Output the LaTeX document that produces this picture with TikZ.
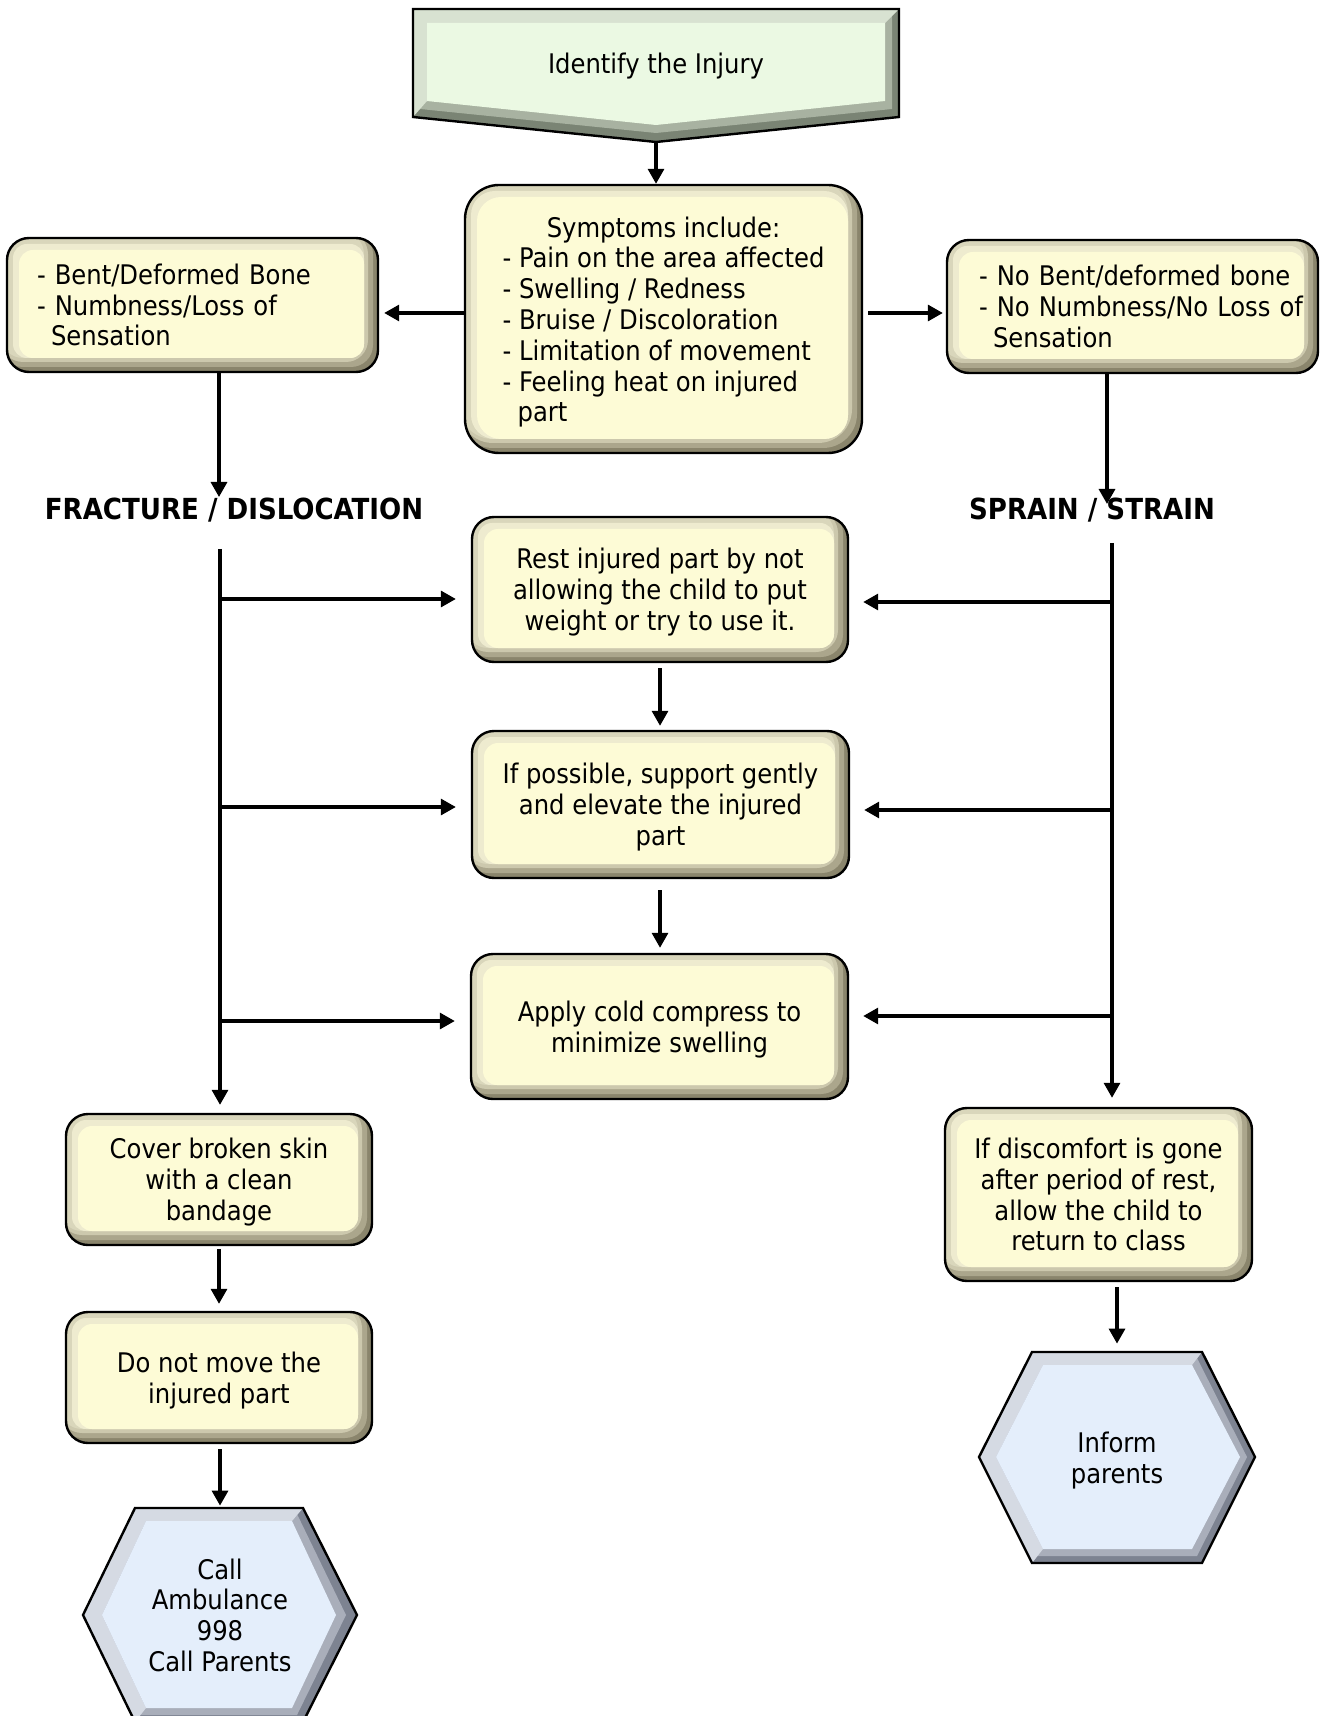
\documentclass[tikz,border=0pt]{standalone}
\usepackage{fontspec}
\setmainfont{DejaVu Sans Condensed}
\usetikzlibrary{arrows.meta}

% card (yellow) bevel tones
\definecolor{yface}{HTML}{FDFBD6}
\definecolor{yhi}{HTML}{EEEBCF}
\definecolor{ylight}{HTML}{D9D6BB}
\definecolor{ysoft}{HTML}{CCC8AD}
\definecolor{ymid}{HTML}{ABA68C}
\definecolor{ydark}{HTML}{8A856C}
% banner (green) tones
\definecolor{gface}{HTML}{EBF9E3}
\definecolor{glight}{HTML}{D8E2D1}
\definecolor{gmid}{HTML}{A8B2A1}
\definecolor{gdark}{HTML}{7A8474}
% terminal (blue) tones
\definecolor{bface}{HTML}{E4EEFB}
\definecolor{blight}{HTML}{D5DAE3}
\definecolor{bmid}{HTML}{A9AEBA}
\definecolor{bdark}{HTML}{7D8391}

\tikzset{
  body/.style={font=\fontsize{13.5}{15.4}\selectfont},
  heading/.style={font=\fontsize{14.5}{17}\selectfont\bfseries, inner sep=0pt},
  % bevelled rounded card: #1 outer radius, #2 inner radius
  card/.style 2 args={draw=black, line width=1.2pt, fill=ydark, rounded corners=#1,
    inner sep=0pt, body, align=center,
    path picture={
      \fill[ymid] ([shift={(-3pt,3pt)}]path picture bounding box.north west)
        rectangle ([shift={(-2.5pt,2.5pt)}]path picture bounding box.south east);
      \fill[ysoft] ([shift={(-3pt,3pt)}]path picture bounding box.north west)
        rectangle ([shift={(-5pt,5pt)}]path picture bounding box.south east);
      \fill[ylight] ([shift={(-3pt,3pt)}]path picture bounding box.north west)
        rectangle ([shift={(-7pt,7pt)}]path picture bounding box.south east);
      \fill[yhi, rounded corners=#2] ([shift={(3pt,-3pt)}]path picture bounding box.north west)
        rectangle ([shift={(-7pt,7pt)}]path picture bounding box.south east);
      \fill[yface, rounded corners=#2] ([shift={(6pt,-6pt)}]path picture bounding box.north west)
        rectangle ([shift={(-7pt,7pt)}]path picture bounding box.south east);
    }},
  label/.style={body, inner sep=0pt, align=center},
  arr/.style={line width=1.6pt, -{Triangle[length=7.5pt,width=8pt]}},
  outline/.style={draw=black, line width=1.2pt, line join=miter},
}

\begin{document}
\begin{tikzpicture}[x=0.5pt,y=-0.5pt]
\useasboundingbox (0,0) rectangle (1319,1716);
\clip (0,0) rectangle (1319,1716);
\fill[white] (0,0) rectangle (1319,1716);

% ---- start banner (downward pentagon) ----
\fill[gdark] (413,9) -- (899,9) -- (899,117) -- (656,142) -- (413,117) -- cycle;
\fill[gmid] (420,16) -- (892,16) -- (892,109) -- (656,133) -- (420,109) -- cycle;
\fill[glight] (413,9) -- (899,9) -- (885,23) -- (427,23) -- (427,101) -- (413,117) -- cycle;
\fill[gface] (427,23) -- (885,23) -- (885,101) -- (656,125) -- (427,101) -- cycle;
\path[outline] (413,9) -- (899,9) -- (899,117) -- (656,142) -- (413,117) -- cycle;
\node[label, text depth=0pt, minimum width=243pt, minimum height=54pt] (ident) at (656,63) {Identify the Injury};
\coordinate (ptip) at (656,142);

% ---- end hexagons ----
\fill[bdark] (83,1615) -- (135,1508) -- (303,1508) -- (357,1615) -- (303,1722) -- (135,1722) -- cycle;
\fill[bmid] (92,1615) -- (140,1514) -- (297,1514) -- (346,1615) -- (297,1715) -- (140,1715) -- cycle;
\fill[blight] (135,1722) -- (83,1615) -- (135,1508) -- (303,1508) -- (292,1521) -- (146,1521) -- (102,1615) -- (146,1708) -- cycle;
\fill[bface] (102,1615) -- (146,1521) -- (292,1521) -- (336,1615) -- (292,1708) -- (146,1708) -- cycle;
\path[outline] (83,1615) -- (135,1508) -- (303,1508) -- (357,1615) -- (303,1722) -- (135,1722) -- cycle;

\fill[bdark] (979,1457) -- (1032,1352) -- (1202,1352) -- (1255,1457) -- (1202,1563) -- (1032,1563) -- cycle;
\fill[bmid] (987,1457) -- (1037,1358) -- (1197,1358) -- (1247,1457) -- (1197,1556) -- (1037,1556) -- cycle;
\fill[blight] (1032,1563) -- (979,1457) -- (1032,1352) -- (1202,1352) -- (1192,1365) -- (1043,1365) -- (996,1457) -- (1043,1549) -- cycle;
\fill[bface] (996,1457) -- (1043,1365) -- (1192,1365) -- (1240,1457) -- (1192,1549) -- (1043,1549) -- cycle;
\path[outline] (979,1457) -- (1032,1352) -- (1202,1352) -- (1255,1457) -- (1202,1563) -- (1032,1563) -- cycle;

\node[label, text depth=0pt, minimum width=137pt, minimum height=107pt] (amb) at (220,1615) {Call\\Ambulance\\998\\Call Parents};
\node[label, text depth=0pt, minimum width=138pt, minimum height=105.5pt] (inf) at (1117,1457.5) {Inform\\parents};

% ---- cards ----
\node[card={17pt}{12pt}, minimum width=198.5pt, minimum height=134pt] (symp) at (663.5,319)
  {\begin{tabular}{@{}l@{}}\multicolumn{1}{@{}c@{}}{\rule{0pt}{15.2pt}Symptoms include:}\\
   - Pain on the area affected\\- Swelling / Redness\\- Bruise / Discoloration\\
   - Limitation of movement\\- Feeling heat on injured\\\hspace*{7.5pt}part\end{tabular}};

\node[card={11pt}{7pt}, align=left, inner xsep=15pt, text width=155.5pt, minimum height=67pt] (lbox) at (192.5,305)
  {\mbox{- Bent/Deformed Bone}\\\mbox{- Numbness/Loss of}\\\mbox{\hspace*{7pt}Sensation}};
\node[card={11pt}{7pt}, align=left, inner xsep=16pt, text width=153.5pt, minimum height=66.5pt] (rbox) at (1132.5,306.5)
  {\mbox{- No Bent/deformed bone}\\\mbox{- No Numbness/No Loss of}\\\mbox{\hspace*{7pt}Sensation}};

\node[card={11pt}{7pt}, text depth=0pt, minimum width=188pt, minimum height=72.5pt] (rest) at (660,589.5)
  {Rest injured part by not\\allowing the child to put\\weight or try to use it.};
\node[card={11pt}{7pt}, text depth=0pt, minimum width=188.5pt, minimum height=73.5pt] (support) at (660.5,804.5)
  {If possible, support gently\\and elevate the injured\\part};
\node[card={11pt}{7pt}, text depth=0pt, minimum width=188.5pt, minimum height=72.5pt] (cold) at (659.5,1026.5)
  {Apply cold compress to\\minimize swelling};

\node[card={11pt}{7pt}, text depth=0pt, minimum width=153pt, minimum height=65.5pt] (cover) at (219,1179.5)
  {Cover broken skin\\with a clean\\bandage};
\node[card={11pt}{7pt}, text depth=0pt, minimum width=153pt, minimum height=65.5pt] (dnm) at (219,1377.5)
  {Do not move the\\injured part};
\node[card={11pt}{7pt}, text depth=0pt, minimum width=153.5pt, minimum height=86.5pt] (disc) at (1098.5,1194.5)
  {If discomfort is gone\\after period of rest,\\allow the child to\\return to class};

% ---- branch headings ----
\node[heading] (frac) at (234,510) {FRACTURE / DISLOCATION};
\node[heading] (sprain) at (1092,510) {SPRAIN / STRAIN};

% ---- helper coordinates ----
\coordinate (ay) at (0,313);
\coordinate (ftip) at (219,497);
\coordinate (stip) at (1107,504);
\coordinate (ltop) at (220,549);
\coordinate (rtop) at (1112,543);
\coordinate (b1) at (0,599);
\coordinate (b2) at (0,807);
\coordinate (b3) at (0,1021);
\coordinate (c1) at (0,602);
\coordinate (c2) at (0,810);
\coordinate (c3) at (0,1016);

% ---- connectors ----
\draw[arr] (ptip) -- (ptip |- symp.north);
\draw[arr] (symp.west |- ay) -- ([xshift=2.5pt]lbox.east |- ay);
\draw[arr] ([xshift=2.5pt]symp.east |- ay) -- ([xshift=-1.5pt]rbox.west |- ay);
\draw[arr] (lbox.south -| ftip) -- (ftip);
\draw[arr] (rbox.south -| stip) -- (stip);

\draw[arr] (ltop) -- ([yshift=4pt]cover.north -| ltop);
\draw[arr] (ltop |- b1) -- ([xshift=-7.5pt]rest.west |- b1);
\draw[arr] (ltop |- b2) -- ([xshift=-7.5pt]support.west |- b2);
\draw[arr] (ltop |- b3) -- ([xshift=-7.5pt]cold.west |- b3);

\draw[arr] (rtop) -- ([yshift=4.5pt]disc.north -| rtop);
\draw[arr] (rtop |- c1) -- ([xshift=7pt]rest.east |- c1);
\draw[arr] (rtop |- c2) -- ([xshift=7pt]support.east |- c2);
\draw[arr] (rtop |- c3) -- ([xshift=7pt]cold.east |- c3);

\draw[arr] ([yshift=-2.5pt]rest.south) -- ([yshift=2pt]support.north -| rest.south);
\draw[arr] ([yshift=-5.5pt]support.south -| rest.south) -- ([yshift=2.5pt]cold.north -| rest.south);
\draw[arr] ([yshift=-1.5pt]cover.south) -- ([yshift=3.5pt]dnm.north);
\draw[arr] ([yshift=-2.5pt]dnm.south -| amb.north) -- ([yshift=1pt]amb.north);
\draw[arr] ([yshift=-2.5pt]disc.south -| inf.north) -- ([yshift=4pt]inf.north);
\end{tikzpicture}
\end{document}
